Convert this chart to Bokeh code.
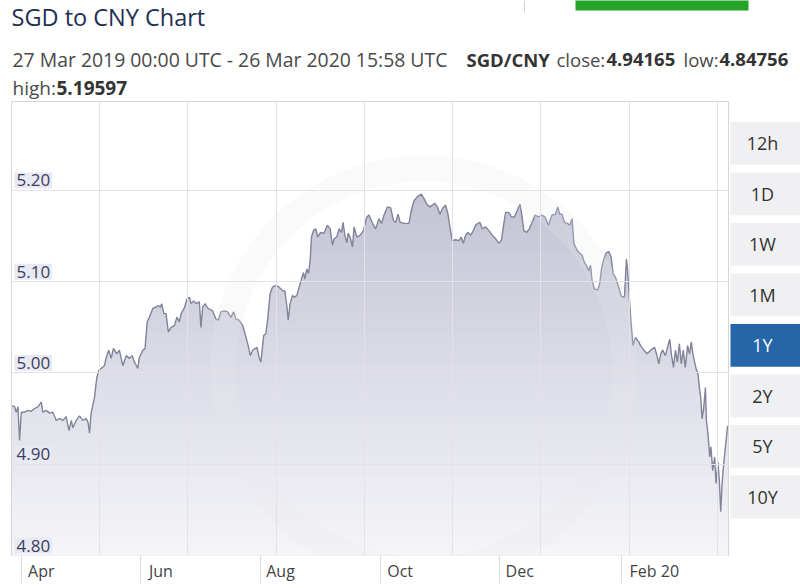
import numpy as np
import pandas as pd
from bokeh.plotting import figure
from bokeh.layouts import column, row
from bokeh.models import Range1d, FixedTicker, Label
from bokeh.core.properties import value
from bokeh.embed import file_html
from bokeh.resources import INLINE

# ---------------- data ----------------
TITLE = "SGD to CNY Chart"
PERIOD = "27 Mar 2019 00:00 UTC - 26 Mar 2020 15:58 UTC"
PAIR = "SGD/CNY"
CLOSE = "4.94165"
LOW = "4.84756"
HIGH = "5.19597"
START = "2019-03-27 00:00"
END = "2020-03-26 15:58"

# days after START, and SGD/CNY rate
days = [0.4, 1.6, 2.4, 3.3, 4.1, 5.0, 6.7, 8.4, 10.1, 11.8, 13.5, 15.2, 16.0, 17.7, 19.4, 21.1,
        22.8, 24.5, 26.2, 27.9, 29.3, 30.5, 31.3, 33.0, 34.7, 36.4, 38.1, 39.0, 39.8, 40.6,
        42.3, 43.5, 44.6, 45.7, 47.4, 48.3, 49.6, 50.8, 52.0, 53.7, 55.0, 56.8, 58.5, 60.1,
        61.5, 62.7, 64.4, 65.2, 67.0, 68.1, 69.2, 70.3, 72.1, 73.7, 74.9, 75.9, 76.6, 77.7,
        78.8, 80.0, 81.4, 83.1, 84.4, 85.6, 86.5, 88.1, 89.5, 90.7, 91.6, 92.9, 94.1, 95.8,
        96.6, 97.5, 98.7, 100.1, 102.6, 104.3, 105.5, 106.8, 108.5, 110.2, 111.9, 113.3,
        114.5, 116.1, 117.9, 119.6, 120.7, 121.8, 123.0, 125.2, 126.4, 127.2, 128.6, 129.7,
        130.6, 131.9, 133.1, 134.8, 136.5, 138.3, 139.4, 140.5, 141.1, 142.1, 143.3, 144.2,
        145.5, 146.7, 147.9, 148.9, 149.6, 150.6, 151.5, 152.3, 153.0, 154.0, 155.2, 156.1,
        157.7, 159.4, 161.1, 162.5, 163.7, 164.5, 165.9, 167.1, 168.3, 169.1, 170.0, 171.0,
        171.7, 172.7, 173.9, 174.7, 176.1, 177.8, 179.5, 181.2, 182.3, 184.1, 185.7, 187.4,
        188.7, 190.0, 191.7, 193.4, 194.8, 195.9, 197.1, 198.2, 200.2, 202.7, 203.9, 205.3,
        207.0, 209.0, 210.4, 211.8, 213.4, 214.7, 215.8, 217.2, 218.5, 219.7, 221.4, 222.6,
        223.9, 224.8, 226.5, 228.2, 229.4, 230.4, 231.6, 232.8, 234.2, 235.5, 236.7, 237.9,
        238.9, 240.1, 241.8, 243.5, 245.2, 246.9, 248.6, 249.8, 251.1, 252.0, 253.6, 254.9,
        256.5, 257.9, 259.3, 260.2, 261.3, 262.7, 264.1, 265.3, 267.0, 268.7, 270.4, 272.1,
        273.8, 275.6, 277.4, 278.6, 279.6, 280.8, 282.0, 283.4, 284.7, 285.9, 286.8, 288.1,
        289.3, 291.0, 292.2, 293.2, 294.4, 295.3, 296.1, 297.3, 299.0, 300.0, 300.9, 302.1,
        303.4, 304.6, 305.8, 306.8, 308.0, 309.7, 311.0, 312.6, 313.6, 314.2, 315.2, 316.0,
        317.0, 318.2, 319.9, 320.8, 322.5, 324.2, 326.0, 328.0, 329.2, 330.1, 331.1, 332.1,
        333.5, 334.8, 335.7, 336.5, 337.6, 338.6, 339.6, 340.6, 341.6, 342.6, 343.6, 344.8,
        345.8, 346.7, 347.5, 348.4, 349.1, 350.1, 350.8, 351.5, 352.2, 353.0, 353.9, 354.4,
        355.2, 356.1, 356.7, 357.6, 358.6, 359.3, 360.3, 361.0, 361.7, 362.4, 363.2, 364.1,
        365.2]
rates = [4.964, 4.963, 4.957, 4.963, 4.926, 4.957, 4.957, 4.959, 4.958, 4.961, 4.963, 4.968,
         4.957, 4.959, 4.956, 4.957, 4.948, 4.950, 4.948, 4.952, 4.937, 4.948, 4.940, 4.948,
         4.953, 4.948, 4.950, 4.946, 4.934, 4.956, 4.973, 4.995, 5.003, 5.005, 5.008, 5.017,
         5.025, 5.016, 5.027, 5.021, 5.025, 5.008, 5.019, 5.016, 5.019, 5.012, 5.005, 5.017,
         5.025, 5.027, 5.056, 5.061, 5.071, 5.072, 5.074, 5.072, 5.076, 5.065, 5.065, 5.045,
         5.050, 5.052, 5.061, 5.056, 5.065, 5.071, 5.081, 5.083, 5.076, 5.079, 5.076, 5.078,
         5.050, 5.072, 5.076, 5.071, 5.068, 5.059, 5.058, 5.067, 5.068, 5.067, 5.061, 5.067,
         5.059, 5.058, 5.052, 5.039, 5.030, 5.019, 5.025, 5.028, 5.016, 5.012, 5.041, 5.043,
         5.058, 5.087, 5.094, 5.096, 5.094, 5.090, 5.090, 5.072, 5.058, 5.076, 5.085, 5.083,
         5.085, 5.094, 5.103, 5.110, 5.103, 5.114, 5.109, 5.123, 5.149, 5.156, 5.158, 5.149,
         5.154, 5.153, 5.162, 5.158, 5.140, 5.147, 5.149, 5.158, 5.154, 5.165, 5.151, 5.143,
         5.153, 5.149, 5.138, 5.160, 5.149, 5.151, 5.156, 5.171, 5.173, 5.164, 5.158, 5.169,
         5.164, 5.173, 5.182, 5.181, 5.167, 5.165, 5.174, 5.165, 5.164, 5.164, 5.178, 5.189,
         5.193, 5.196, 5.191, 5.185, 5.182, 5.184, 5.186, 5.182, 5.174, 5.180, 5.184, 5.174,
         5.156, 5.145, 5.146, 5.145, 5.149, 5.142, 5.151, 5.154, 5.151, 5.156, 5.162, 5.164,
         5.165, 5.158, 5.160, 5.156, 5.151, 5.147, 5.142, 5.145, 5.164, 5.176, 5.176, 5.171,
         5.171, 5.178, 5.185, 5.174, 5.156, 5.154, 5.158, 5.164, 5.173, 5.171, 5.173, 5.171,
         5.162, 5.173, 5.174, 5.182, 5.174, 5.174, 5.165, 5.164, 5.162, 5.169, 5.142, 5.136,
         5.132, 5.129, 5.121, 5.118, 5.112, 5.118, 5.101, 5.092, 5.091, 5.098, 5.114, 5.125,
         5.132, 5.133, 5.127, 5.109, 5.105, 5.094, 5.084, 5.083, 5.125, 5.112, 5.079, 5.054,
         5.030, 5.039, 5.034, 5.030, 5.025, 5.021, 5.025, 5.028, 5.019, 5.010, 5.021, 5.025,
         5.019, 5.030, 5.037, 5.021, 5.006, 5.025, 5.012, 5.032, 5.010, 5.025, 5.006, 5.030,
         5.021, 5.034, 5.021, 5.012, 5.005, 4.999, 4.984, 4.973, 4.950, 4.961, 4.984, 4.948,
         4.933, 4.908, 4.919, 4.893, 4.908, 4.879, 4.902, 4.882, 4.848, 4.879, 4.900, 4.919,
         4.942]

month_starts = ["2019-04-01", "2019-06-01", "2019-08-01", "2019-10-01", "2019-12-01", "2020-02-01"]
month_labels = ["Apr", "Jun", "Aug", "Oct", "Dec", "Feb 20"]
y_ticks = [4.80, 4.90, 5.00, 5.10, 5.20]
Y_MIN, Y_MAX = 4.80, 5.2975
GRID_STEP_DAYS = 45
periods = ["12h", "1D", "1W", "1M", "1Y", "2Y", "5Y", "10Y"]
ACTIVE = "1Y"

# ---------------- helpers ----------------
DAY_MS = 86400000.0
def ms(ts):
    return pd.Timestamp(ts).value / 1e6

t0 = ms(START)
t1 = ms(END)
x = [t0 + d * DAY_MS for d in days]
r = np.array(rates)

FONT = "Open Sans"
FRAME_W = 717  # px width of the data frame
HEAD_H = 100
MAIN_W = 729
BODY_H = 588 - HEAD_H


def blank(width, height, xr, yr):
    f = figure(width=width, height=height, x_range=Range1d(*xr), y_range=Range1d(*yr),
               x_axis_location=None, y_axis_location=None, output_backend="svg",
               toolbar_location=None, min_border=0, background_fill_color="white",
               border_fill_color="white")
    f.outline_line_color = None
    f.grid.visible = False
    return f

# ---------------- header ----------------
head = blank(800, HEAD_H, (0, 800), (HEAD_H, 0))
head.quad(left=[575], right=[748], top=[-5], bottom=[10], fill_color="#25a428", line_color=None)
head.segment(x0=[524], y0=[0], x1=[524], y1=[12], line_color="#d0d0d0", line_width=1)

def htext(px, py, text, size, bold=False, color="#4a4a4a"):
    head.text(x=[px], y=[py], text=[text], text_font=value(FONT), text_font_size=size,
              text_font_style="bold" if bold else "normal", text_color=color,
              text_align="left", text_baseline="middle")

htext(11, 16, TITLE, "23.5px", color="#223052")
htext(12, 59, PERIOD, "19.4px")
htext(466, 59, PAIR, "18.5px", bold=True, color="#333333")
htext(556, 59, "close:", "18.5px")
htext(606, 59, CLOSE, "18.5px", bold=True, color="#333333")
htext(683, 59, "low:", "18.5px")
htext(719, 59, LOW, "18.5px", bold=True, color="#333333")
htext(12, 87.5, "high:", "19px")
htext(56, 87.5, HIGH, "19px", bold=True, color="#333333")

# ---------------- main chart ----------------
p = figure(width=MAIN_W, height=BODY_H, x_axis_type="datetime", y_axis_location=None,
           x_range=Range1d(t0, t1), y_range=Range1d(Y_MIN, Y_MAX),
           output_backend="svg", toolbar_location=None,
           min_border_left=11, min_border_right=1, min_border_top=1, min_border_bottom=33,
           background_fill_color="white", border_fill_color="white")
p.outline_line_color = "#d6d6da"

# gradient area (stacked clipped areas, top colours first)
top_c = np.array([194, 196, 212])
bot_c = np.array([246, 246, 249])
levels = np.linspace(Y_MAX, Y_MIN, 46)[:-1]
for hi in levels:
    t = min(max((hi - Y_MIN) / (5.20 - Y_MIN), 0.0), 1.0)
    c = bot_c + (top_c - bot_c) * t
    col = "#%02x%02x%02x" % tuple(int(round(v)) for v in c)
    p.varea(x=x, y1=Y_MIN, y2=np.minimum(r, hi), fill_color=col)

p.line(x, rates, line_color="#82859a", line_width=1.4)

# faint watermark ring
p.annulus(x=[t0 + 0.575 * (t1 - t0)], y=[Y_MIN + 0.41 * (Y_MAX - Y_MIN)],
          inner_radius=188, outer_radius=214, inner_radius_units="screen",
          outer_radius_units="screen", fill_color="#e6e7ee", fill_alpha=0.22, line_color=None)

# grids
grid_ms = [t0 + k * GRID_STEP_DAYS * DAY_MS for k in range(1, 9)]
p.xgrid.ticker = FixedTicker(ticks=grid_ms)
p.ygrid.ticker = FixedTicker(ticks=y_ticks)
p.grid.grid_line_color = "#e2e2e8"
p.grid.grid_line_width = 1
p.grid.level = "annotation"

# x axis: separators at month starts, labels just to the right
px_per_ms = FRAME_W / (t1 - t0)
sep_ms = [ms(m) for m in month_starts]
lab_ms = [float(s + (7 + 4.33 * len(l)) / px_per_ms) for s, l in zip(sep_ms, month_labels)]
ax = p.xaxis[0]
ax.ticker = FixedTicker(ticks=lab_ms, minor_ticks=sep_ms)
ax.major_label_overrides = {v: l for v, l in zip(lab_ms, month_labels)}
ax.axis_line_color = None
ax.major_tick_line_color = None
ax.minor_tick_line_color = "#dedee2"
ax.minor_tick_in = 0
ax.minor_tick_out = 28
ax.major_label_standoff = -24
ax.major_label_text_font = FONT
ax.major_label_text_font_size = "16px"
ax.major_label_text_color = "#444444"

# y labels inside the frame
for v in y_ticks:
    p.add_layout(Label(x=3, y=v, x_units="screen", y_units="data", text="%.2f" % v,
                       y_offset=2, text_baseline="bottom", text_align="left",
                       text_font=FONT, text_font_size="17px", text_color="#3a4060",
                       background_fill_color="#e8e9f2", padding=2))

# ---------------- period buttons ----------------
btn = blank(800 - MAIN_W, BODY_H, (MAIN_W, 800), (588, HEAD_H))
tops = [122 + 54.3 * k for k in range(len(periods))]
bots = [t + 46 for t in tops]
fills = ["#2466a8" if n == ACTIVE else "#f0f0f2" for n in periods]
tcols = ["white" if n == ACTIVE else "#333333" for n in periods]
btn.quad(left=MAIN_W + 1, right=800, top=tops, bottom=bots, fill_color=fills, line_color=None)
btn.text(x=[762] * len(periods), y=[(a + b) / 2 for a, b in zip(tops, bots)], text=periods,
         text_font=value(FONT), text_font_size="18px", text_color=tcols,
         text_align="center", text_baseline="middle")

layout = column(head, row(p, btn, spacing=0), spacing=0)
open("out.html", "w").write(file_html(layout, INLINE))
